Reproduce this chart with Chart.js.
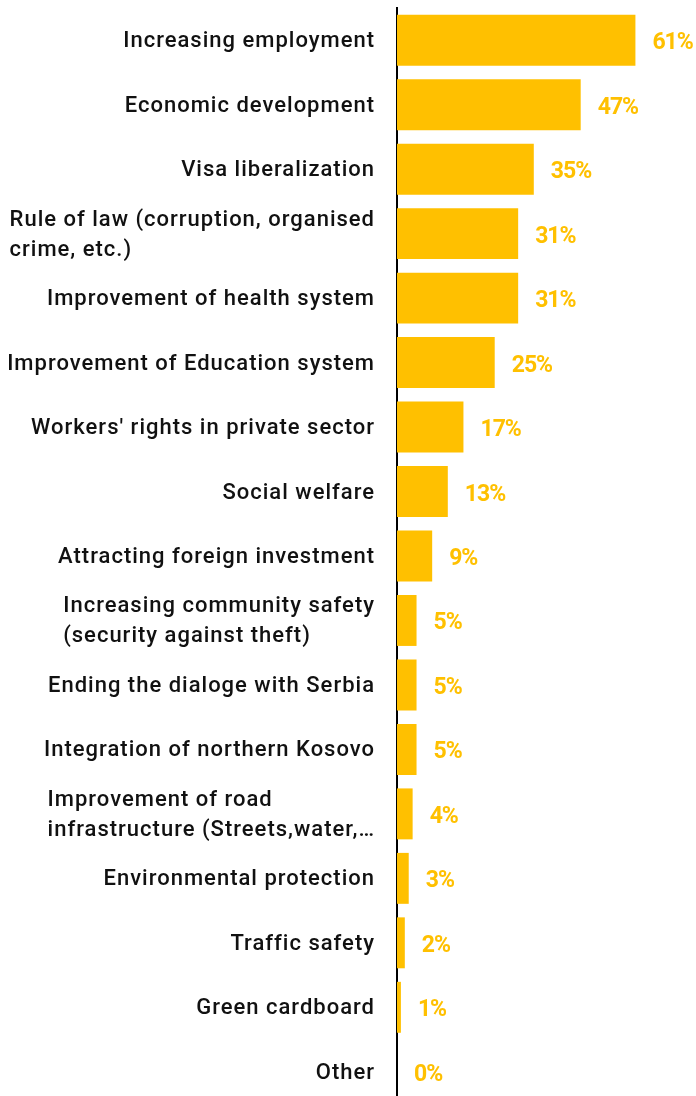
<!DOCTYPE html>
<html>
<head>
<meta charset="utf-8">
<script src="https://cdn.jsdelivr.net/npm/chart.js@4.4.0/dist/chart.umd.min.js"></script>
<style>
  html, body { margin: 0; padding: 0; background: #fff; overflow: hidden; }
  #wrap { position: relative; width: 696px; height: 1104px; }
</style>
</head>
<body>
<div id="wrap"><canvas id="chart"></canvas></div>
<script>
// survey answers, one entry per bar (wrapped lines kept as arrays)
const categories = [
  ['Increasing employment'],
  ['Economic development'],
  ['Visa liberalization'],
  ['Rule of law (corruption, organised', 'crime, etc.)'],
  ['Improvement of health system'],
  ['Improvement of Education system'],
  ["Workers' rights in private sector"],
  ['Social welfare'],
  ['Attracting foreign investment'],
  ['Increasing community safety', '(security against theft)'],
  ['Ending the dialoge with Serbia'],
  ['Integration of northern Kosovo'],
  ['Improvement of road', 'infrastructure (Streets,water,\u2026'],
  ['Environmental protection'],
  ['Traffic safety'],
  ['Green cardboard'],
  ['Other']
];
const shares = [61, 47, 35, 31, 31, 25, 17, 13, 9, 5, 5, 5, 4, 3, 2, 1, 0];
const valueLabels = shares.map(v => v + '%');

const GOLD = '#FFC000';
const LABEL_FONT = '500 22px Roboto, "DejaVu Sans", sans-serif';
const VALUE_FONT = 'bold 23px Roboto, "DejaVu Sans", sans-serif';

// category names drawn as left-aligned blocks ending just before the axis
const categoryText = {
  id: 'categoryText',
  afterDraw(chart) {
    const { ctx, scales: { x, y } } = chart;
    ctx.save();
    ctx.font = LABEL_FONT;
    ctx.letterSpacing = '1px';
    ctx.fillStyle = '#111';
    ctx.textBaseline = 'alphabetic';
    ctx.textAlign = 'left';
    const lineH = 30;
    categories.forEach((lines, i) => {
      const cy = y.getPixelForValue(i);
      const w = Math.max(...lines.map(l => ctx.measureText(l).width));
      const x0 = y.right - 22 - w;
      lines.forEach((l, k) => {
        ctx.fillText(l, x0, cy + 7 + (k - (lines.length - 1) / 2) * lineH);
      });
    });
    // percentage next to each bar
    ctx.font = VALUE_FONT;
    ctx.letterSpacing = '-1px';
    ctx.fillStyle = GOLD;
    shares.forEach((v, i) => {
      ctx.fillText(valueLabels[i], x.getPixelForValue(v) + 17, y.getPixelForValue(i) + 9);
    });
    ctx.restore();
  }
};

new Chart(document.getElementById('chart'), {
  type: 'bar',
  data: {
    labels: categories,
    datasets: [{
      data: shares,
      backgroundColor: GOLD,
      borderWidth: 0,
      categoryPercentage: 1,
      barPercentage: 0.79
    }]
  },
  options: {
    indexAxis: 'y',
    responsive: true,
    maintainAspectRatio: false,
    animation: false,
    layout: { padding: { top: 8, left: 0, right: 0, bottom: 0 } },
    plugins: { legend: { display: false }, tooltip: { enabled: false } },
    scales: {
      x: { min: 0, max: 76.5, display: false },
      y: {
        grid: { display: false },
        border: { display: true, color: '#000', width: 2 },
        ticks: { display: false },
        afterFit(scale) { scale.width = 397; }
      }
    }
  },
  plugins: [categoryText]
});
</script>
</body>
</html>
